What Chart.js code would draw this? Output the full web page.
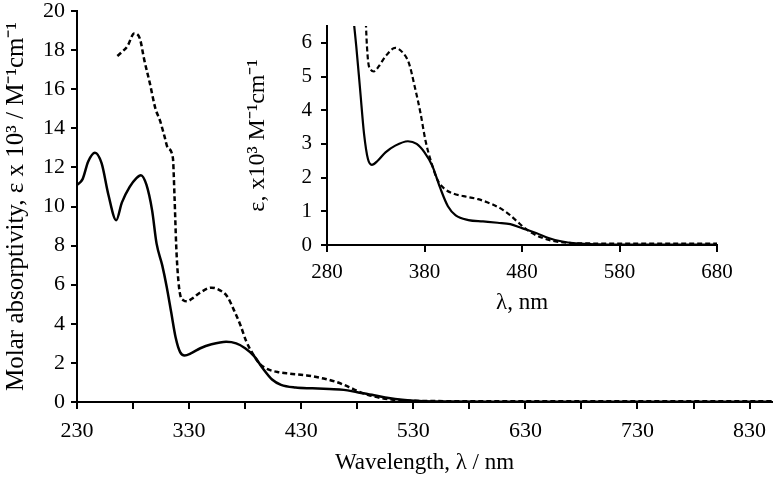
<!DOCTYPE html>
<html>
<head>
<meta charset="utf-8">
<script src="https://cdn.jsdelivr.net/npm/chart.js@4/dist/chart.umd.min.js"></script>
<style>
  body { margin: 0; background: #fff; }
  #wrap { position: relative; width: 774px; height: 477px; }
  #main { position: absolute; left: 0; top: 0; }
  #inset { position: absolute; left: 240px; top: 10px; }
</style>
</head>
<body>
<div id="wrap">
  <canvas id="main" width="774" height="477"></canvas>
  <canvas id="inset" width="520" height="310"></canvas>
</div>
<script>
// solid curve
var wlSolid = [230, 235, 240, 246, 252, 258, 265, 270, 277, 283, 287, 292, 297, 301, 306, 310, 314, 318, 322, 326,
  332, 340, 350, 363, 372, 380, 388, 396, 404, 412, 425, 440, 455, 468, 480, 495, 508, 520, 535, 560, 600, 700, 850];
var epsSolid = [11.1, 11.4, 12.3, 12.75, 12.2, 10.6, 9.3, 10.2, 11.0, 11.45, 11.6, 11.1, 9.8, 8.1, 7.0, 5.9, 4.6, 3.3, 2.55, 2.38,
  2.5, 2.75, 2.95, 3.08, 3.0, 2.75, 2.35, 1.7, 1.15, 0.88, 0.74, 0.70, 0.66, 0.62, 0.5, 0.35, 0.2, 0.11, 0.05, 0.02, 0.01, 0.01, 0.01];

// dashed curve
var wlDashed = [266, 270, 275, 281, 286, 290, 295, 300, 304, 308, 311, 315.5, 317, 318.5, 320, 322, 325, 328, 333, 340, 350,
  358, 364, 370, 376, 381, 387, 393, 400, 410, 420, 435, 450, 460, 468, 475, 482, 490, 500, 512, 525, 540, 600, 700, 850];
var epsDashed = [17.7, 17.9, 18.2, 18.85, 18.6, 17.5, 16.3, 15.0, 14.4, 13.6, 13.0, 12.5, 10.5, 8.0, 6.5, 5.5, 5.2, 5.15, 5.3, 5.6, 5.85,
  5.7, 5.4, 4.7, 3.9, 3.1, 2.45, 1.95, 1.68, 1.52, 1.45, 1.36, 1.2, 1.05, 0.88, 0.7, 0.52, 0.36, 0.22, 0.12, 0.07, 0.05, 0.04, 0.04, 0.04];

var mainXTicks = [230, 280, 330, 380, 430, 480, 530, 580, 630, 680, 730, 780, 830];
var mainXLabels = [230, 330, 430, 530, 630, 730, 830];
var mainYTicks = [0, 2, 4, 6, 8, 10, 12, 14, 16, 18, 20];
var insetXTicks = [280, 380, 480, 580, 680];
var insetYTicks = [0, 1, 2, 3, 4, 5, 6];

var serif = 'Liberation Serif';

function pts(xs, ys) {
  return xs.map(function(x, i) { return { x: x, y: ys[i] }; });
}

function lines(width) {
  return [
    { data: pts(wlSolid, epsSolid), borderColor: '#000', borderWidth: width, pointRadius: 0,
      cubicInterpolationMode: 'monotone', fill: false },
    { data: pts(wlDashed, epsDashed), borderColor: '#000', borderWidth: width, pointRadius: 0,
      borderDash: [5, 3], cubicInterpolationMode: 'monotone', fill: false }
  ];
}

// outward tick marks on every axis, placed by the scale itself
var tickMarks = {
  id: 'tickMarks',
  afterDraw: function(chart) {
    var ctx = chart.ctx;
    ctx.save();
    ctx.strokeStyle = '#000';
    ctx.lineWidth = 2;
    Object.keys(chart.scales).forEach(function(id) {
      var s = chart.scales[id];
      var tl = id === 'x' ? 7 : 6;
      s.ticks.forEach(function(t) {
        var p = Math.round(s.getPixelForValue(t.value));
        ctx.beginPath();
        if (id === 'x') { ctx.moveTo(p, s.top); ctx.lineTo(p, s.top + tl); }
        else { ctx.moveTo(s.right, p); ctx.lineTo(s.right - tl, p); }
        ctx.stroke();
      });
    });
    ctx.restore();
  }
};

function fixed(size, horizontal) {
  return function(scale) {
    if (horizontal) scale.height = size; else scale.width = size;
    scale.paddingTop = 0; scale.paddingBottom = 0;
    scale.paddingLeft = 0; scale.paddingRight = 0;
  };
}

function setTicks(list) {
  return function(scale) {
    scale.ticks = list.map(function(v) { return { value: v }; });
  };
}

function axis(opts) {
  return {
    type: 'linear',
    min: opts.min, max: opts.max,
    afterBuildTicks: setTicks(opts.ticks),
    afterFit: fixed(opts.size, opts.horizontal),
    border: { display: true, color: '#000', width: 2 },
    grid: { display: true, drawOnChartArea: false, drawTicks: true, tickLength: opts.tl,
      color: '#000', lineWidth: 2, tickColor: '#000', tickWidth: 2 },
    ticks: {
      color: '#000', padding: opts.pad, autoSkip: false, maxRotation: 0, maxTicksLimit: 30,
      font: { family: serif, size: opts.fs },
      callback: opts.cb || function(v) { return v; }
    },
    title: {
      display: true, text: opts.title, color: '#000',
      font: { family: serif, size: opts.tfs },
      padding: opts.tpad
    }
  };
}

new Chart(document.getElementById('main'), {
  type: 'line',
  data: { datasets: lines(2.5) },
  plugins: [tickMarks],
  options: {
    responsive: false, animation: false,
    layout: { padding: { left: 0, top: 11, right: 2, bottom: 0 } },
    plugins: { legend: { display: false }, tooltip: { enabled: false } },
    scales: {
      x: axis({ min: 230, max: 850, ticks: mainXTicks, size: 75, horizontal: true, tl: 6, pad: 10, fs: 22,
        cb: function(v) { return mainXLabels.indexOf(v) >= 0 ? v : ''; },
        title: 'Wavelength, λ / nm', tfs: 23, tpad: { top: 0, bottom: 0 } }),
      y: axis({ min: 0, max: 20, ticks: mainYTicks, size: 77, horizontal: false, tl: 5, pad: 7, fs: 22,
        title: 'Molar absorptivity, ε x 10³ / M⁻¹cm⁻¹', tfs: 25, tpad: { top: 1, bottom: 0 } })
    }
  }
});

new Chart(document.getElementById('inset'), {
  type: 'line',
  data: { datasets: lines(2.2) },
  plugins: [tickMarks],
  options: {
    responsive: false, animation: false,
    layout: { padding: { left: 0, top: 16, right: 43, bottom: 0 } },
    plugins: { legend: { display: false }, tooltip: { enabled: false } },
    scales: {
      x: axis({ min: 280, max: 680, ticks: insetXTicks, size: 75, horizontal: true, tl: 6, pad: 9, fs: 21,
        title: 'λ, nm', tfs: 23, tpad: { top: 0, bottom: 3 } }),
      y: axis({ min: 0, max: 6.5, ticks: insetYTicks, size: 87, horizontal: false, tl: 5, pad: 10, fs: 21,
        title: 'ε, x10³ M⁻¹cm⁻¹', tfs: 24, tpad: { top: 3, bottom: 0 } })
    }
  }
});
</script>
</body>
</html>
